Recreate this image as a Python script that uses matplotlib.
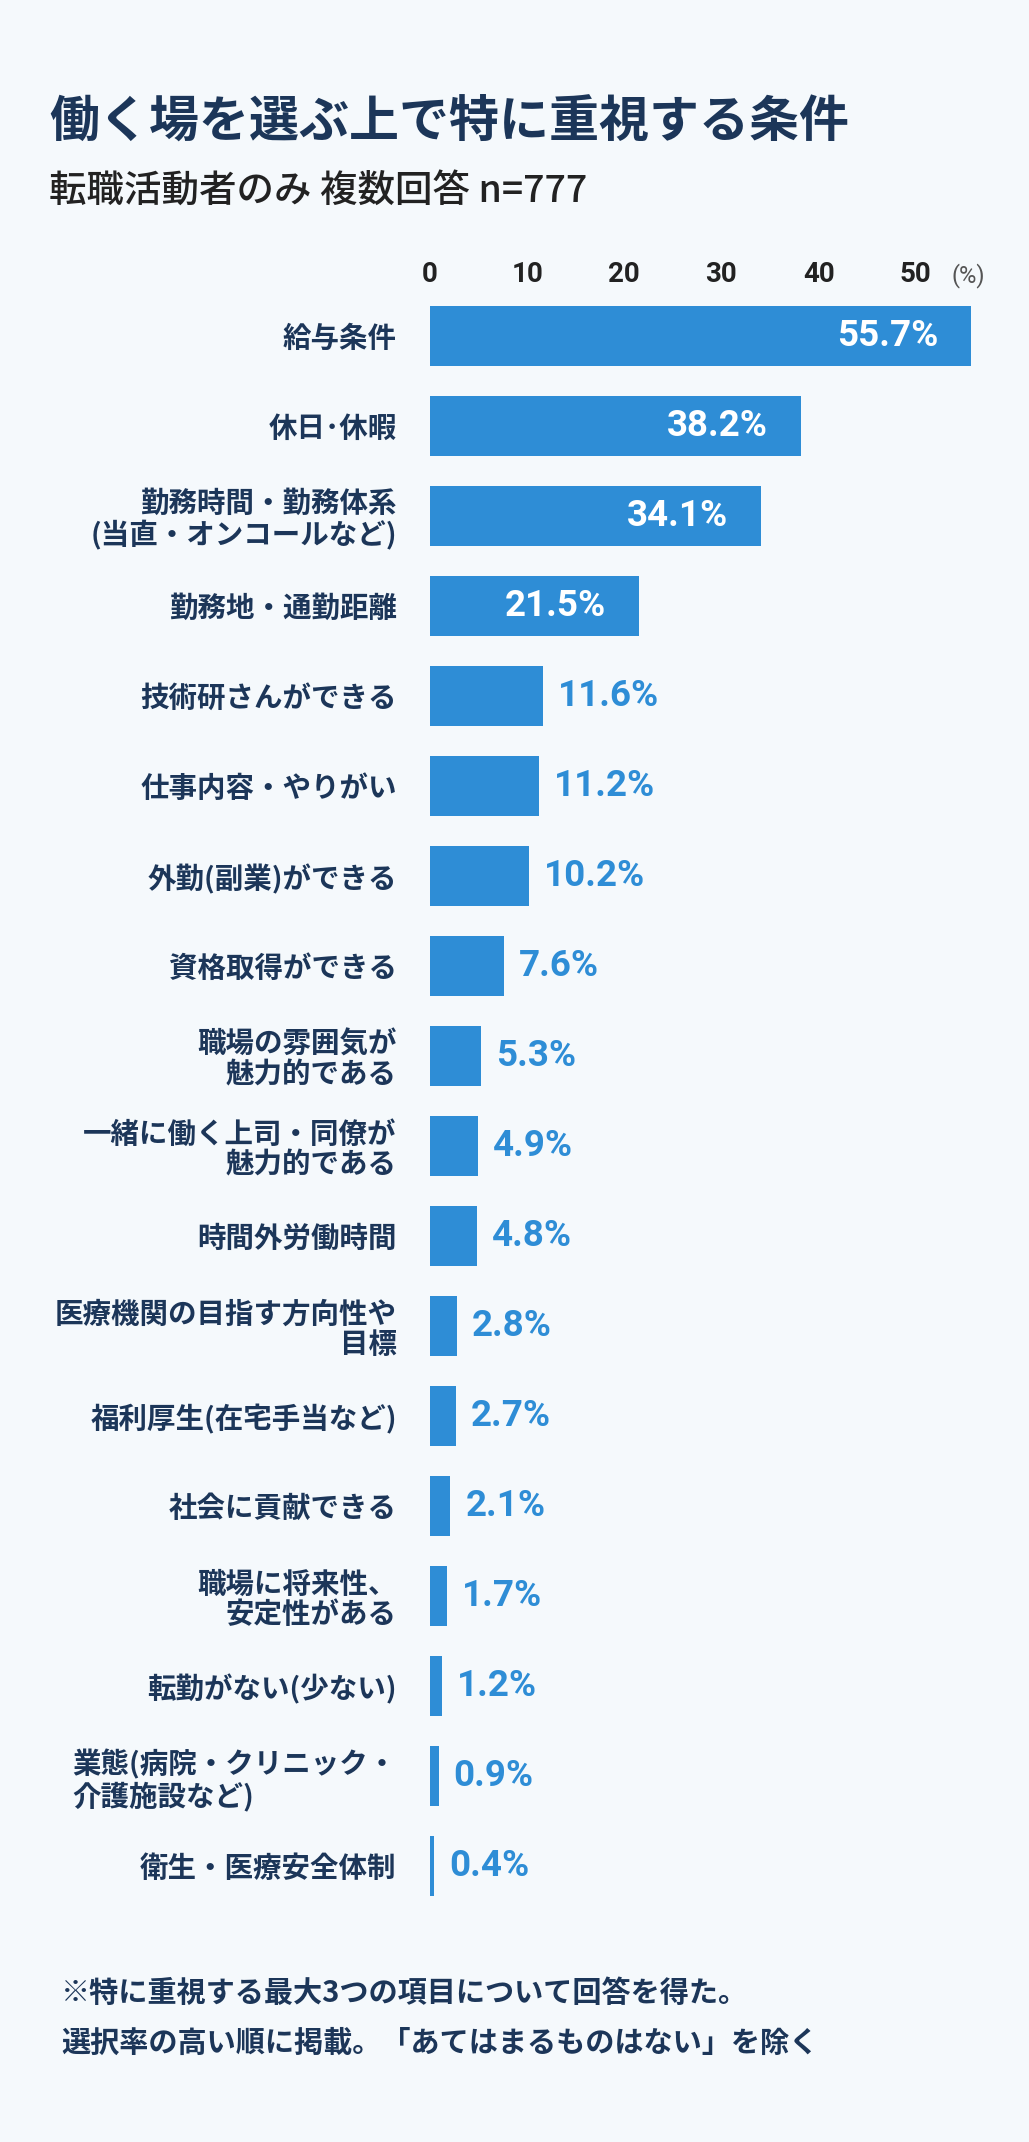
import matplotlib
matplotlib.use("Agg")
import matplotlib.pyplot as plt

# ---- data -------------------------------------------------------------
categories = [
    "給与条件",
    "休日･休暇",
    "勤務時間・勤務体系\n(当直・オンコールなど)",
    "勤務地・通勤距離",
    "技術研さんができる",
    "仕事内容・やりがい",
    "外勤(副業)ができる",
    "資格取得ができる",
    "職場の雰囲気が\n魅力的である",
    "一緒に働く上司・同僚が\n魅力的である",
    "時間外労働時間",
    "医療機関の目指す方向性や\n目標",
    "福利厚生(在宅手当など)",
    "社会に貢献できる",
    "職場に将来性、\n安定性がある",
    "転勤がない(少ない)",
    "業態(病院・クリニック・\n介護施設など)",
    "衛生・医療安全体制",
]
values = [55.7, 38.2, 34.1, 21.5, 11.6, 11.2, 10.2, 7.6, 5.3, 4.9, 4.8,
          2.8, 2.7, 2.1, 1.7, 1.2, 0.9, 0.4]
x_ticks = [0, 10, 20, 30, 40, 50]

title = "働く場を選ぶ上で特に重視する条件"
subtitle = "転職活動者のみ 複数回答 n=777"
notes = ["※特に重視する最大3つの項目について回答を得た。",
         "選択率の高い順に掲載。「あてはまるものはない」を除く"]

# ---- style ------------------------------------------------------------
BG = "#f5f9fc"
BAR = "#2e8dd6"
NAVY = "#1c3659"
DARK = "#222222"
JP = ["Noto Sans CJK JP", "DejaVu Sans"]
NUM = ["Roboto", "Noto Sans CJK JP", "DejaVu Sans"]
plt.rcParams["font.family"] = JP

W, H, DPI = 1029, 2142, 100
fig = plt.figure(figsize=(W / DPI, H / DPI), dpi=DPI, facecolor=BG)

# axes placed in pixel terms: bars start at x=430, rows 90px apart
n = len(categories)
x0, x1 = 430, 1013
y_top, y_bot = 291, 291 + 90 * n
ax = fig.add_axes([x0 / W, 1 - y_bot / H, (x1 - x0) / W, (y_bot - y_top) / H])
ax.set_facecolor("none")

ypos = list(range(n))
ax.barh(ypos, values, height=0.667, color=BAR)
ax.set_xlim(0, 60)
ax.set_ylim(n - 0.5, -0.5)

for s in ax.spines.values():
    s.set_visible(False)

# top axis ticks
ax.xaxis.tick_top()
ax.set_xticks(x_ticks)
ax.set_xticklabels([str(t) for t in x_ticks], family=NUM, weight="bold",
                   fontsize=20, color=DARK)
ax.tick_params(axis="x", length=0, pad=2)

# category labels
ax.set_yticks(ypos)
ax.set_yticklabels(categories, fontsize=20.5, weight="bold", color=NAVY,
                   linespacing=1.1)
ax.tick_params(axis="y", length=0, pad=24)
for lab in ax.get_yticklabels():
    if lab.get_text().startswith("業態"):
        lab.set_multialignment("left")

# value labels
for i, v in enumerate(values):
    if v >= 20:
        ax.annotate(f"{v}%", xy=(v, i), xytext=(-33, 0),
                    textcoords="offset pixels", ha="right", va="center",
                    family=NUM, weight="bold", fontsize=26.5, color="white")
    else:
        ax.annotate(f"{v}%", xy=(v, i), xytext=(15, 0),
                    textcoords="offset pixels", ha="left", va="center",
                    family=NUM, weight="bold", fontsize=26.5, color=BAR)

# (%) unit next to the ticks
fig.text(968 / W, 1 - 276 / H, "(%)", ha="center", va="center",
         family=NUM, fontsize=17, color="#555555")

# titles
fig.text(49 / W, 1 - 122 / H, title, ha="left", va="center",
         fontsize=36, weight="bold", color=NAVY)
fig.text(49 / W, 1 - 191 / H, subtitle, ha="left", va="center",
         fontsize=27, weight="medium", color=DARK)

# footnotes
fig.text(61 / W, 1 - 1993 / H, notes[0], ha="left", va="center",
         fontsize=21, weight="bold", color=NAVY)
fig.text(61 / W, 1 - 2043 / H, notes[1], ha="left", va="center",
         fontsize=21, weight="bold", color=NAVY)

fig.savefig("out.png", dpi=DPI, facecolor=BG)
